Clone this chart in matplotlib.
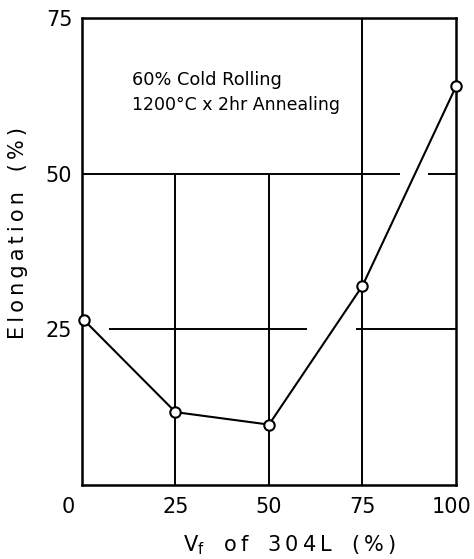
import numpy as np
import matplotlib
matplotlib.use("Agg")
import matplotlib.pyplot as plt
import matplotlib.transforms as mtransforms

# datos
vf = [0.5, 25, 50, 75, 100]               # Vf de 304L (%)
elong = [26.5, 11.7, 9.7, 32.0, 64.0]     # elongación (%)
xticks = [0, 25, 50, 75, 100]
yticks = [25, 50, 75]

TS = "\u2009"   # espacio fino para el espaciado de letras


def spaced(s):
    return TS.join(s)


fig = plt.figure(figsize=(4.74, 5.59), dpi=100)
ax = fig.add_axes([0.173, 0.1324, 0.789, 0.8354])
ax.set_xlim(0, 100)
ax.set_ylim(0, 75)

for s in ax.spines.values():
    s.set_linewidth(1.8)

# rejilla dibujada a mano (tramos como en el original)
kw = dict(color="k", lw=1.4, zorder=1)
ax.vlines([25, 50], 0, 50, **kw)
ax.vlines(75, 0, 75, **kw)
ax.hlines(50, 0, 85, **kw)
ax.hlines(50, 92.5, 100, **kw)
ax.hlines(25, 7.2, 60.2, **kw)
ax.hlines(25, 73.3, 100, **kw)

ax.plot(vf, elong, "-o", color="k", lw=1.5, ms=7.5, mfc="white",
        mec="k", mew=1.5, zorder=5, clip_on=False)

ax.text(13.5, 65, "60% Cold Rolling", fontsize=12.8, va="center")
ax.text(13.5, 61, "1200°C x 2hr Annealing", fontsize=12.5, va="center")

ax.set_xticks(xticks)
ax.set_yticks(yticks)
ax.tick_params(length=0, labelsize=15, pad=9)
ax.tick_params(axis="y", pad=7)
labs = ax.get_xticklabels()
for lab, dx in ((labs[0], -14), (labs[-1], -4)):
    off = mtransforms.ScaledTranslation(dx/100, 0, fig.dpi_scale_trans)
    lab.set_transform(lab.get_transform() + off)

ax.set_ylabel(spaced("Elongation") + "   (" + TS + "%" + TS + ")",
              fontsize=15, va="center")
ax.yaxis.set_label_coords(-0.171, 0.54)
ax.set_xlabel(r"V$_\mathregular{f}$" + "   " + spaced("of") + "   "
              + spaced("304L") + "   (" + TS + "%" + TS + ")",
              fontsize=15, va="center")
ax.xaxis.set_label_coords(0.556, -0.128)

fig.savefig("out.png", dpi=100)
